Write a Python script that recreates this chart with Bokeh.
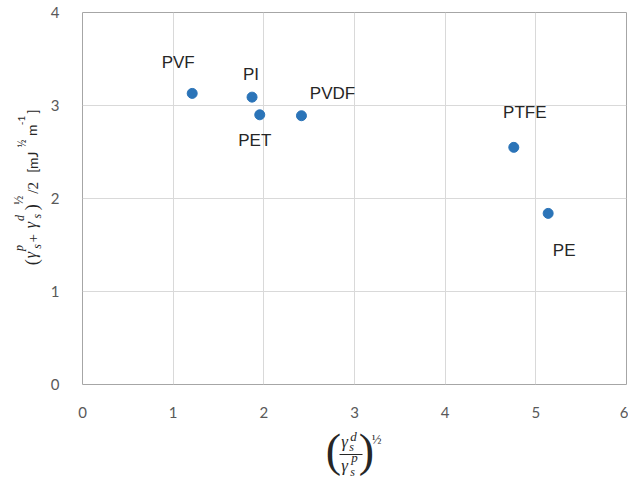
import math

from bokeh.plotting import figure
from bokeh.layouts import row, column
from bokeh.models import ColumnDataSource, FixedTicker
from bokeh.core.properties import value
from bokeh.embed import file_html
from bokeh.resources import INLINE

# ---- data -------------------------------------------------------------
polymers = ["PVF", "PI", "PET", "PVDF", "PTFE", "PE"]
ratio_sqrt = [1.21, 1.87, 1.955, 2.415, 4.757, 5.136]      # (γd/γp)^½
half_sum_sqrt = [3.13, 3.09, 2.90, 2.89, 2.55, 1.84]       # (γp+γd)^½ / 2
x_ticks = [0, 1, 2, 3, 4, 5, 6]
y_ticks = [0, 1, 2, 3, 4]

# ---- styling / layout ---------------------------------------------------
label_dx = [-14, -1, -5, 31, 11, 16]      # name offsets from each marker (px)
label_dy = [-31, -23, 26, -22, -35, 37]

W, H = 628, 481
LEFT_W = 45          # strip holding the vertical title
TOP_H = 420          # height of the plot row; the horizontal title sits below
FRAME_BOTTOM = 384
MARK = "#2b74b8"
TICK_GRAY = "#595959"
TEXT = "#262626"
MATH = "Liberation Serif"
SANS = "Liberation Sans"

main = figure(width=W - LEFT_W, height=TOP_H, x_range=(0, 6), y_range=(0, 4),
              output_backend="svg", toolbar_location=None,
              min_border_left=82 - LEFT_W, min_border_right=2,
              min_border_top=12, min_border_bottom=TOP_H - FRAME_BOTTOM)

main.background_fill_color = "white"
main.border_fill_color = "white"
main.outline_line_color = "#a6a6a6"
main.outline_line_width = 1

for ax, ticks in ((main.xaxis, x_ticks), (main.yaxis, y_ticks)):
    ax.ticker = FixedTicker(ticks=ticks)
    ax.axis_line_color = None
    ax.major_tick_line_color = None
    ax.minor_tick_line_color = None
    ax.major_label_text_font = "Lato"
    ax.major_label_text_font_size = "15px"
    ax.major_label_text_color = TICK_GRAY
main.xaxis.major_label_standoff = 16
main.yaxis.major_label_standoff = 17

main.xgrid.ticker = FixedTicker(ticks=x_ticks)
main.ygrid.ticker = FixedTicker(ticks=y_ticks)
main.grid.grid_line_color = "#d9d9d9"
main.grid.grid_line_width = 1

src = ColumnDataSource(dict(x=ratio_sqrt, y=half_sum_sqrt, name=polymers,
                            dx=label_dx, dy=label_dy))
main.scatter("x", "y", source=src, size=10, marker="circle",
             fill_color=MARK, line_color=MARK)
main.text("x", "y", text="name", source=src, x_offset="dx", y_offset="dy",
          text_align="center", text_baseline="middle",
          text_font_size="17px", text_font=value(SANS), text_color=TEXT)


def strip(x0, x1, y0, y1):
    """A bare figure whose data coordinates equal page pixels."""
    f = figure(width=x1 - x0, height=y1 - y0, x_range=(x0, x1), y_range=(y1, y0),
               output_backend="svg", toolbar_location=None, title=None,
               x_axis_location=None, y_axis_location=None, min_border=0)
    f.min_border_left = f.min_border_right = 0
    f.min_border_top = f.min_border_bottom = 0
    f.grid.visible = False
    f.outline_line_color = None
    f.background_fill_color = "white"
    f.border_fill_color = "white"
    return f


def put(f, text, cx, cy, size, font=MATH, style="italic", angle=0.0):
    """One piece of a composed title, centred on (cx, cy)."""
    f.text([cx], [cy], text=[text], text_font=value(font), text_font_style=style,
           text_font_size=f"{size}px", text_color=TEXT, text_align="center",
           text_baseline="middle", angle=angle)


# y-axis title: (γs^p + γs^d)^½ /2  [mJ ½ m⁻¹], read bottom to top
left = strip(0, LEFT_W, 0, TOP_H)
up = math.pi / 2
put(left, "(", 31, 282, 18, style="normal", angle=up)
put(left, "γ", 30, 274, 16, angle=up)
put(left, "p", 18, 266, 12, angle=up)
put(left, "s", 36, 264, 12, angle=up)
put(left, "+", 32, 255, 15, style="normal", angle=up)
put(left, "γ", 30, 240, 16, angle=up)
put(left, "d", 19, 232, 12, angle=up)
put(left, "s", 36, 230, 12, angle=up)
put(left, ")", 31, 220, 18, style="normal", angle=up)
put(left, "½", 18, 212, 12, style="normal", angle=up)
put(left, "/2", 32, 198, 15, style="normal", angle=up)
put(left, "[mJ", 32, 169, 14, font="Lato", style="normal", angle=up)
put(left, "½", 21, 148, 11, font="Lato", style="normal", angle=up)
put(left, "m", 31, 133, 14, font="Lato", style="normal", angle=up)
put(left, "-1", 21, 122, 10, font="Lato", style="normal", angle=up)
put(left, "]", 32, 112, 14, font="Lato", style="normal", angle=up)

# x-axis title: ( γs^d / γs^p )^½
bottom = strip(0, W, TOP_H, H)
put(bottom, "(", 333, 450, 46, style="normal")
put(bottom, ")", 366, 450, 46, style="normal")
put(bottom, "γ", 344, 441, 17)
put(bottom, "d", 353, 436, 13)
put(bottom, "s", 351, 446, 12)
put(bottom, "γ", 344, 465, 17)
put(bottom, "p", 354, 457, 13)
put(bottom, "s", 352, 471, 12)
put(bottom, "½", 376, 439, 13, style="normal")
bottom.segment([339], [454], [362], [454], line_color=TEXT, line_width=1.2)

layout = column(row(left, main, spacing=0), bottom, spacing=0)
open("out.html", "w").write(file_html(layout, INLINE))
